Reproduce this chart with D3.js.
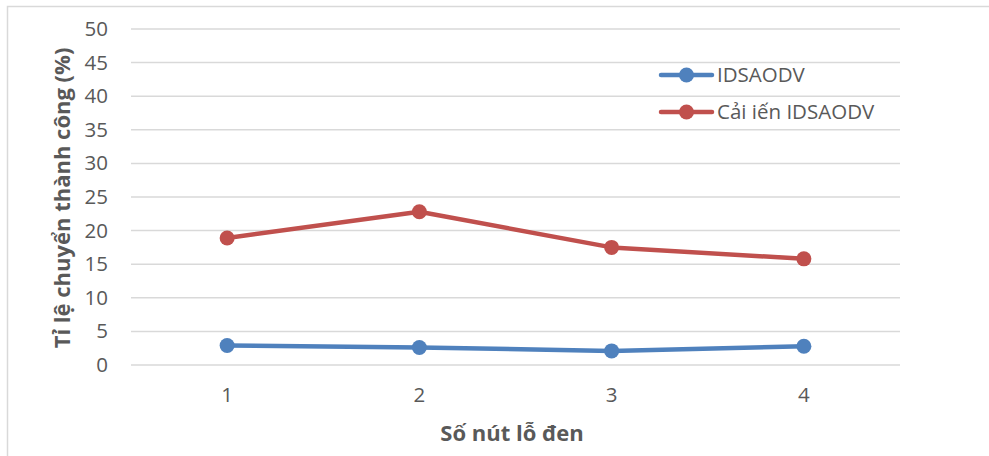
<!DOCTYPE html>
<html><head><meta charset="utf-8">
<script src="https://cdn.jsdelivr.net/npm/d3@7"></script>
<style>body{margin:0;background:#fff}svg{display:block}</style>
</head><body>
<script>
const categories = ["1","2","3","4"];
const yTicks = [0,5,10,15,20,25,30,35,40,45,50];
const seriesNames = ["IDSAODV","Cải iến IDSAODV"];
const idsaodv = [2.9, 2.6, 2.1, 2.8];
const caiTien = [18.9, 22.8, 17.5, 15.8];
const colors = ["#4F81BD","#C0504D"];

const W=989,H=456;
const svg=d3.select("body").append("svg").attr("width",W).attr("height",H);
const font="'Open Sans', sans-serif";
svg.append("rect").attr("x",7.5).attr("y",6.5).attr("width",1000).attr("height",500)
  .attr("fill","#fff").attr("stroke","#d9d9d9").attr("stroke-width",1.5);

const x=d3.scaleBand().domain(categories).range([131,900]);
const y=d3.scaleLinear().domain([0,50]).range([365,29]);

svg.append("g").selectAll("line").data(yTicks).join("line")
  .attr("x1",131).attr("x2",900).attr("y1",d=>y(d)).attr("y2",d=>y(d))
  .attr("stroke","#d9d9d9").attr("stroke-width",1.5);

const ya=svg.append("g").attr("transform","translate(131,0)")
  .call(d3.axisLeft(y).tickValues(yTicks).tickSize(0).tickPadding(23));
ya.select(".domain").remove();
ya.selectAll("text").attr("font-family",font).attr("font-size",20.5).attr("fill","#595959");

const xa=svg.append("g").attr("transform","translate(0,365)")
  .call(d3.axisBottom(x).tickSize(0).tickPadding(22));
xa.select(".domain").remove();
xa.selectAll("text").attr("font-family",font).attr("font-size",20.5).attr("fill","#595959");

const data=[idsaodv,caiTien];
const line=d3.line().x((d,i)=>x(categories[i])+x.bandwidth()/2).y(d=>y(d));
data.forEach((s,k)=>{
  svg.append("path").attr("d",line(s)).attr("fill","none").attr("stroke",colors[k])
    .attr("stroke-width",4.5).attr("stroke-linejoin","round").attr("stroke-linecap","round");
  svg.append("g").selectAll("circle").data(s).join("circle")
    .attr("cx",(d,i)=>x(categories[i])+x.bandwidth()/2).attr("cy",d=>y(d))
    .attr("r",7.5).attr("fill",colors[k]);
});

svg.append("text").attr("transform","translate(70,198) rotate(-90)").attr("text-anchor","middle")
  .attr("font-family",font).attr("font-weight","bold").attr("font-size",22).attr("fill","#595959")
  .text("Tỉ lệ chuyển thành công (%)");
svg.append("text").attr("x",512).attr("y",441).attr("text-anchor","middle")
  .attr("font-family",font).attr("font-weight","bold").attr("font-size",22).attr("fill","#595959")
  .text("Số nút lỗ đen");

const lg=svg.append("g");
seriesNames.forEach((n,k)=>{
  const ly=[75,112][k];
  lg.append("line").attr("x1",661).attr("x2",712).attr("y1",ly).attr("y2",ly)
    .attr("stroke",colors[k]).attr("stroke-width",4.5).attr("stroke-linecap","round");
  lg.append("circle").attr("cx",686.5).attr("cy",ly).attr("r",7.5).attr("fill",colors[k]);
  lg.append("text").attr("x",717).attr("y",ly).attr("dy","0.35em")
    .attr("font-family",font).attr("font-size",20.5).attr("fill","#595959").text(n);
});
</script>
</body></html>
